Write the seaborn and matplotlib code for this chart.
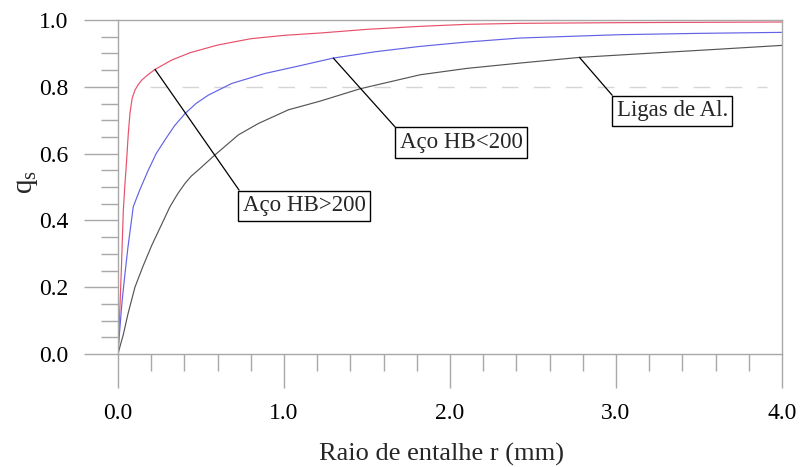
import matplotlib
matplotlib.use("Agg")
import matplotlib.pyplot as plt
from matplotlib.transforms import offset_copy
import seaborn as sns
import pandas as pd

# ---- data ----
r_hb_high = [0, 0.01, 0.02, 0.032, 0.042, 0.052, 0.062, 0.072, 0.085, 0.102, 0.12, 0.143,
             0.18, 0.223, 0.323, 0.434, 0.6, 0.8, 1.0, 1.217, 1.5, 1.82, 2.1, 2.42, 3.0,
             3.5, 4.0]
q_hb_high = [0, 0.12, 0.25, 0.43, 0.51, 0.58, 0.66, 0.72, 0.765, 0.79, 0.805, 0.82,
             0.836, 0.852, 0.88, 0.902, 0.925, 0.944, 0.954, 0.961, 0.972, 0.981, 0.987,
             0.99, 0.992, 0.993, 0.994]

r_hb_low = [0, 0.012, 0.025, 0.042, 0.06, 0.092, 0.13, 0.183, 0.23, 0.283, 0.34, 0.404,
            0.47, 0.544, 0.685, 0.886, 1.086, 1.297, 1.55, 1.82, 2.1, 2.42, 3.02, 3.5, 4.0]
q_hb_low = [0, 0.082, 0.16, 0.24, 0.32, 0.441, 0.49, 0.551, 0.6, 0.641, 0.683, 0.72,
            0.75, 0.775, 0.81, 0.84, 0.862, 0.886, 0.905, 0.921, 0.934, 0.946, 0.956,
            0.96, 0.963]

r_al = [0, 0.015, 0.032, 0.06, 0.102, 0.15, 0.203, 0.26, 0.313, 0.36, 0.404, 0.44,
        0.484, 0.584, 0.725, 0.845, 1.026, 1.217, 1.458, 1.82, 2.1, 2.42, 2.78, 3.22,
        3.6, 4.0]
q_al = [0, 0.028, 0.058, 0.12, 0.2, 0.262, 0.325, 0.385, 0.441, 0.48, 0.511, 0.532,
        0.551, 0.596, 0.656, 0.69, 0.731, 0.757, 0.794, 0.836, 0.855, 0.871, 0.888,
        0.901, 0.912, 0.924]

series_names = ["Aço HB>200", "Aço HB<200", "Ligas de Al."]
series_colors = ["#e8506a", "#6262e6", "#555555"]

x_major = [0, 1, 2, 3, 4]
x_labels = ["0.0", "1.0", "2.0", "3.0", "4.0"]
y_major = [0, 0.2, 0.4, 0.6, 0.8, 1.0]
y_labels = ["0.0", "0.2", "0.4", "0.6", "0.8", "1.0"]

# annotation anchors: point on curve, top-left corner of label box
ann_points = [(0.223, 0.852), (1.297, 0.886), (2.78, 0.888)]
ann_boxes = [(0.723, 0.488), (1.669, 0.677), (2.976, 0.772)]

ref_level = 0.8

# ---- figure ----
sns.set_style("white")
plt.rcParams["font.family"] = ["Liberation Serif", "DejaVu Serif"]
plt.rcParams["mathtext.fontset"] = "custom"
plt.rcParams["mathtext.rm"] = "Liberation Serif"

fig = plt.figure(figsize=(8.01, 4.67), dpi=100)
ax = fig.add_axes([118 / 801, 1 - 354 / 467, 664 / 801, 334 / 467])

df = pd.concat([
    pd.DataFrame({"r": r_hb_high, "q": q_hb_high, "s": series_names[0]}),
    pd.DataFrame({"r": r_hb_low, "q": q_hb_low, "s": series_names[1]}),
    pd.DataFrame({"r": r_al, "q": q_al, "s": series_names[2]}),
])
sns.lineplot(data=df, x="r", y="q", hue="s", palette=dict(zip(series_names, series_colors)),
             estimator=None, sort=False, lw=0.85, legend=False, ax=ax)

ax.axhline(ref_level, xmin=0.048, xmax=0.977, color="#d6d6d6", lw=1, dashes=(12, 11), zorder=0)

ax.set_xlim(0, 4)
ax.set_ylim(0, 1)

gray = "#a8a8a8"
for sp in ax.spines.values():
    sp.set_color(gray)
    sp.set_linewidth(1)

ax.set_xticks(x_major)
ax.set_xticklabels(x_labels)
ax.set_xticks([i * 0.2 for i in range(21)], minor=True)
ax.set_yticks(y_major)
ax.set_yticklabels(y_labels)
ax.set_yticks([i * 0.05 for i in range(21)], minor=True)

ax.tick_params(axis="both", which="major", direction="out", length=24.5, width=1,
               color=gray, labelsize=17, pad=11, labelcolor="black")
ax.tick_params(axis="both", which="minor", direction="out", length=12.2, width=1, color=gray)
ax.tick_params(bottom=True, left=True, which="both")

ax.set_xlabel("Raio de entalhe r (mm)", fontsize=19)
ax.set_ylabel(r"$\mathregular{q_s}$", fontsize=21)
ax.xaxis.set_label_coords(0.487, -0.265)
ax.yaxis.set_label_coords(-0.118, 0.515)

off = offset_copy(ax.transData, fig=fig, x=3.3, y=-3.0, units="points")
for name, pt, box in zip(series_names, ann_points, ann_boxes):
    ax.annotate(name, xy=pt, xycoords="data", xytext=box, textcoords=off,
                ha="left", va="top", fontsize=16.5,
                bbox=dict(boxstyle="square,pad=0.2", fc="white", ec="black", lw=1),
                arrowprops=dict(arrowstyle="-", color="black", lw=0.9,
                                relpos=(0, 1), shrinkA=0, shrinkB=0))

fig.savefig("out.png", dpi=100)
